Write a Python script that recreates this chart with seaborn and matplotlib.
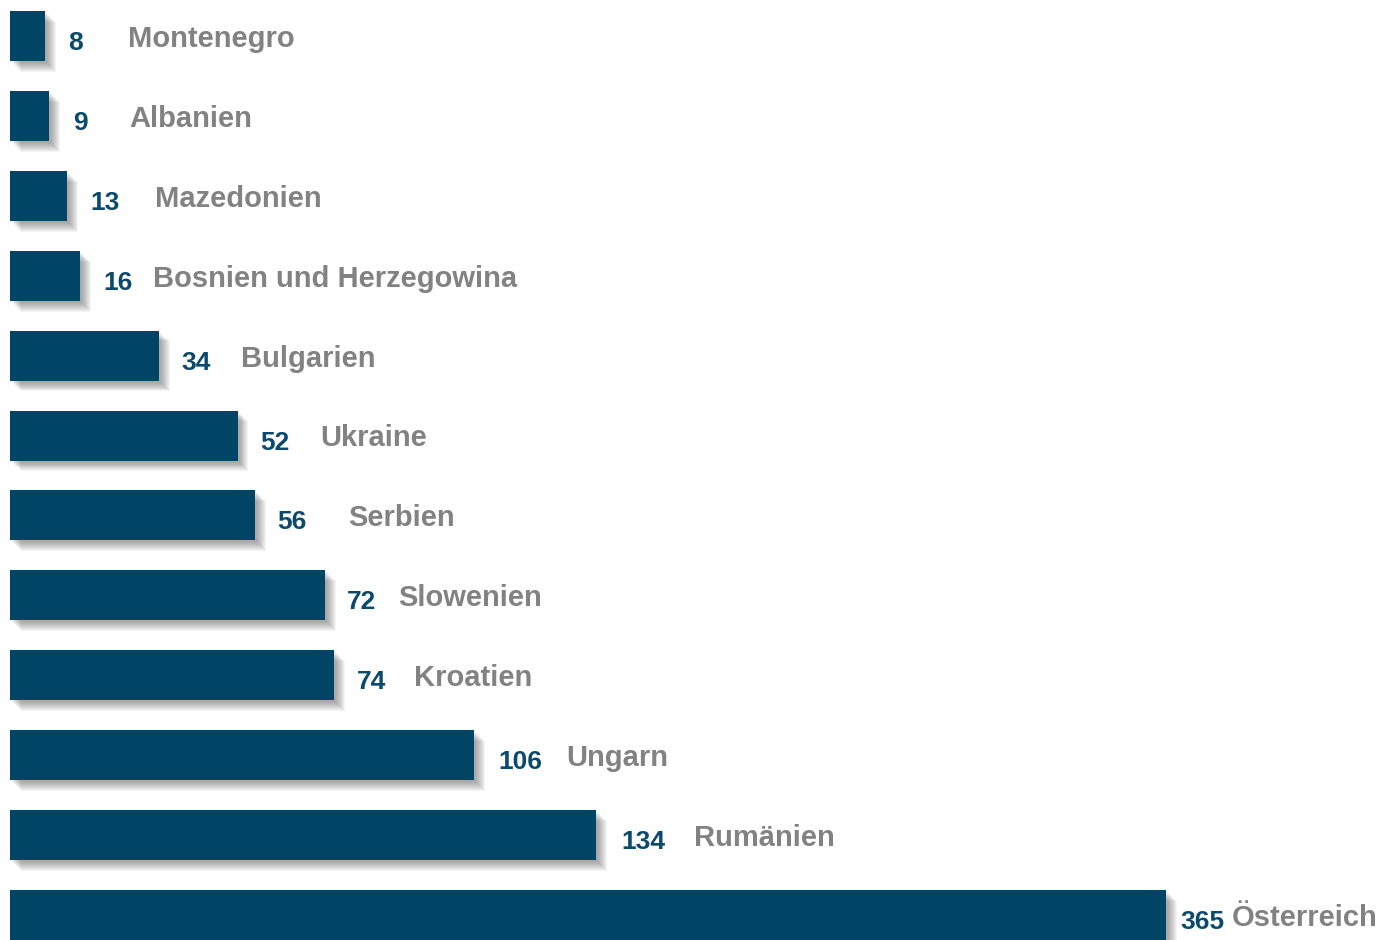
import numpy as np
import pandas as pd
import matplotlib
matplotlib.use("Agg")
import matplotlib.pyplot as plt
import matplotlib.patheffects as pe
import seaborn as sns

# ---- data ----
countries = ["Montenegro", "Albanien", "Mazedonien", "Bosnien und Herzegowina",
             "Bulgarien", "Ukraine", "Serbien", "Slowenien", "Kroatien",
             "Ungarn", "Rumänien", "Österreich"]
values = [8, 9, 13, 16, 34, 52, 56, 72, 74, 106, 134, 365]

# ---- layout (pixels) ----
value_gap = [23, 24, 24, 23, 23, 23, 22, 22, 23, 25, 25, 14]
name_gap = [83, 80, 88, 73, 82, 83, 93, 73, 80, 93, 98, 65]
BAR_CAP = 264.3  # broken-axis cap for the longest bar

W, H, DPI = 1394, 940, 100
PX_PER_UNIT = 4.375
LEFT_PX = 10
STEP_PX = 79.9
FIRST_CENTER_PX = 36

df = pd.DataFrame({"country": countries, "value": values})
df["shown"] = np.minimum(df["value"], BAR_CAP)

sns.set_theme(style="white")
plt.rcParams["font.family"] = ["Liberation Sans", "DejaVu Sans"]

fig = plt.figure(figsize=(W / DPI, H / DPI), dpi=DPI)
ax = fig.add_axes([0, 0, 1, 1])

bar_color = "#004466"
sns.barplot(data=df, y="country", x="shown", orient="h", color=bar_color,
            width=50 / STEP_PX, saturation=1, ax=ax)

shadow = []
for k in range(10):
    d = 1.5 + k * 0.7
    shadow.append(pe.SimplePatchShadow(offset=(d, -d),
                                       shadow_rgbFace="#444444", alpha=0.055))
shadow.append(pe.Normal())
for p in ax.patches:
    p.set_path_effects(shadow)
    p.set_edgecolor("none")

ax.set_xlim(-LEFT_PX / PX_PER_UNIT, (W - LEFT_PX) / PX_PER_UNIT)
top = -FIRST_CENTER_PX / STEP_PX
bottom = top + H / STEP_PX
ax.set_ylim(bottom, top)

for i, (c, v, s) in enumerate(zip(df["country"], df["value"], df["shown"])):
    ax.annotate(str(v), xy=(s, i), xytext=(value_gap[i], -14),
                textcoords="offset pixels", ha="left", va="baseline",
                fontsize=19, fontweight="bold", color="#0b4a6e")
    ax.annotate(c, xy=(s, i), xytext=(name_gap[i], -11),
                textcoords="offset pixels", ha="left", va="baseline",
                fontsize=21, fontweight="bold", color="#828282")

ax.set_axis_off()
fig.savefig("out.png", dpi=DPI, facecolor="white")
